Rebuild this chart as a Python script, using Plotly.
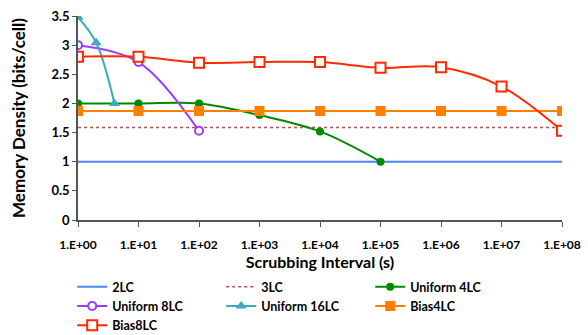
import plotly.graph_objects as go

decades = [1, 10, 100, 1e3, 1e4, 1e5, 1e6, 1e7, 1e8]
lc2 = [1, 1, 1, 1, 1, 1, 1, 1, 1]
lc3 = [1.585] * 9
u4_x = [1, 10, 100, 1e3, 1e4, 1e5]
u4_y = [2.0, 2.0, 2.0, 1.8, 1.52, 1.0]
u8_x = [1, 10, 100]
u8_y = [3.0, 2.71, 1.53]
u16_x = [1, 2, 4]
u16_y = [3.48, 3.04, 2.0]
b4_y = [1.87] * 9
b8_y = [2.8, 2.8, 2.7, 2.71, 2.71, 2.61, 2.62, 2.29, 1.53]
xtick_vals = decades
xtick_text = ["1.E+00", "1.E+01", "1.E+02", "1.E+03", "1.E+04", "1.E+05", "1.E+06", "1.E+07", "1.E+08"]

fig = go.Figure()
fig.add_trace(go.Scatter(x=decades, y=lc2, name="2LC", mode="lines",
                         line=dict(color="#4A86F7", width=2)))
fig.add_trace(go.Scatter(x=decades, y=lc3, name="3LC", mode="lines",
                         line=dict(color="#C0504D", width=1.5, dash="dot")))
fig.add_trace(go.Scatter(x=u4_x, y=u4_y, name="Uniform 4LC", mode="lines+markers",
                         line=dict(color="#008A00", width=2, shape="spline"),
                         marker=dict(symbol="circle", size=8, color="#008A00")))
fig.add_trace(go.Scatter(x=u8_x, y=u8_y, name="Uniform 8LC", mode="lines+markers",
                         line=dict(color="#9B3DFF", width=2, shape="spline"),
                         marker=dict(symbol="circle", size=8, color="white",
                                     line=dict(color="#9B3DFF", width=2))))
fig.add_trace(go.Scatter(x=u16_x, y=u16_y, name="Uniform 16LC", mode="lines+markers",
                         line=dict(color="#3FA9C0", width=2, shape="spline"),
                         marker=dict(symbol="triangle-up", size=10, color="#3FA9C0")))
fig.add_trace(go.Scatter(x=decades, y=b4_y, name="Bias4LC", mode="lines+markers",
                         line=dict(color="#FF8000", width=2),
                         marker=dict(symbol="square", size=10, color="#FF8000")))
fig.add_trace(go.Scatter(x=decades, y=b8_y, name="Bias8LC", mode="lines+markers",
                         line=dict(color="#FF2A00", width=2, shape="spline"),
                         marker=dict(symbol="square", size=10, color="white",
                                     line=dict(color="#FF2A00", width=2))))

font = dict(family="Lato, Open Sans, sans-serif", color="black")
fig.update_layout(
    width=588, height=335,
    margin=dict(l=78, r=26, t=16, b=115, autoexpand=False),
    paper_bgcolor="white", plot_bgcolor="white",
    font=dict(**font, size=12),
    showlegend=True,
    legend=dict(orientation="h", x=-0.012, y=-0.255, xanchor="left", yanchor="top",
                entrywidth=104, entrywidthmode="pixels", traceorder="normal",
                font=dict(size=12.5, weight="bold"),
                tracegroupgap=0),
    xaxis=dict(type="log", range=[0, 8], tickvals=xtick_vals, ticktext=xtick_text,
               showgrid=False, zeroline=False, showline=True, linecolor="#555", linewidth=1.5,
               ticks="outside", ticklen=5, tickcolor="#555", ticklabelstandoff=8,
               tickfont=dict(size=12, weight="bold"),
               title=dict(text="Scrubbing Interval (s)", font=dict(size=16, weight="bold"), standoff=4)),
    yaxis=dict(range=[0, 3.5], dtick=0.5, tickformat="~g",
               showgrid=False, zeroline=False, showline=True, linecolor="#555", linewidth=1.5,
               ticks="outside", ticklen=4, tickcolor="#555",
               tickfont=dict(size=13, weight="bold"),
               title=dict(text="Memory Density (bits/cell)", font=dict(size=17, weight="bold"), standoff=22)),
)
fig.write_html("out.html", config={"displayModeBar": False},
               post_script="document.body.style.margin='0';")
